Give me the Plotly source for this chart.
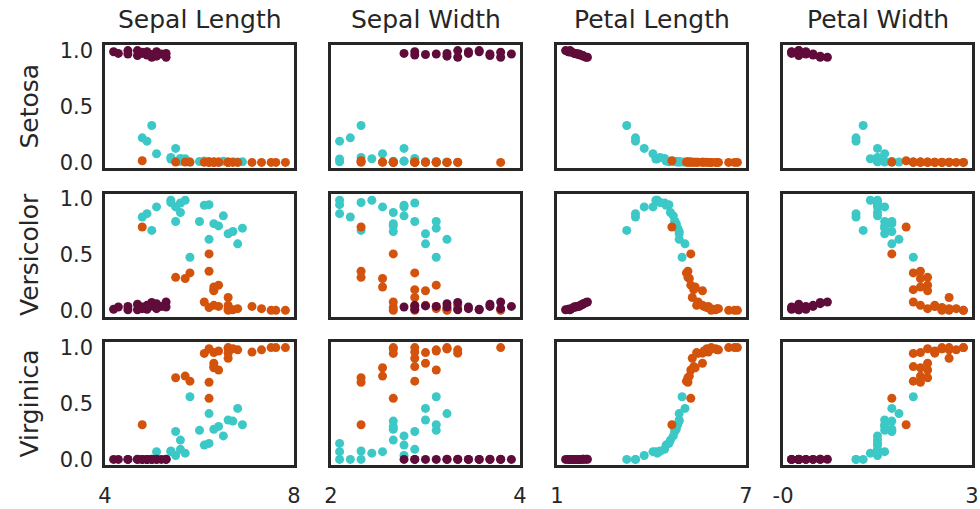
import plotly.graph_objects as go

# ---------------- data ----------------
features = ["Sepal Length", "Sepal Width", "Petal Length", "Petal Width"]
species = ["Setosa", "Versicolor", "Virginica"]
colors = ["#600c3b", "#3cc8c6", "#d4530c"]

x_ranges = [[4.12, 8.08], [1.92, 3.68], [0.705, 7.195], [-0.02, 2.62]]
x_tick_text = [["4", "8"], ["2", "4"], ["1", "7"], ["-0", "3"]]
y_tick_vals = [0.0, 0.5, 1.0]
y_tick_text = ["0.0", "0.5", "1.0"]

# Setosa flowers
setosa_sepal_length = [4.3, 4.4, 4.6, 4.8, 4.9, 5.0, 5.1, 5.2, 5.3, 5.4, 5.0, 5.1, 4.8, 5.2, 4.6, 5.4, 4.9, 5.0]
setosa_sepal_width = [2.7, 2.6, 3.1, 3.4, 3.0, 3.3, 3.1, 3.2, 3.6, 3.5, 2.7, 2.8, 3.3, 3.0, 2.9, 3.2, 3.5, 3.4]
setosa_petal_length = [1.1, 1.3, 1.0, 1.6, 1.3, 1.1, 1.7, 1.2, 1.4, 1.75, 1.5, 1.5, 1.15, 1.6, 1.4, 1.35, 1.2, 1.45]
setosa_petal_width = [0.1, 0.2, 0.2, 0.2, 0.1, 0.3, 0.5, 0.2, 0.4, 0.6, 0.4, 0.2, 0.2, 0.5, 0.3, 0.2, 0.1, 0.2]
setosa_p_setosa = [0.99, 0.975, 1.0, 0.955, 0.975, 0.99, 0.94, 0.99, 0.97, 0.94, 0.96, 0.965, 1.0, 0.95, 0.97, 0.975, 0.985, 0.97]
setosa_p_versicolor = [0.015, 0.035, 0.01, 0.06, 0.035, 0.015, 0.075, 0.02, 0.04, 0.08, 0.05, 0.045, 0.01, 0.065, 0.04, 0.035, 0.02, 0.04]
setosa_p_virginica = [0.0, 0.0, 0.0, 0.001, 0.0, 0.0, 0.001, 0.0, 0.0, 0.001, 0.0, 0.0, 0.0, 0.001, 0.0, 0.0, 0.0, 0.0]

# Versicolor flowers
versicolor_sepal_length = [5.1, 5.0, 4.9, 5.6, 5.2, 5.8, 5.5, 5.7, 5.7, 6.2, 6.3, 5.5, 5.6, 6.1, 6.4, 6.6, 6.5, 7.0, 6.7, 6.8, 6.3, 6.9, 5.9]
versicolor_sepal_width = [2.2, 2.0, 2.1, 2.6, 2.4, 2.3, 2.2, 2.7, 2.5, 2.6, 2.0, 2.0, 2.7, 2.9, 2.5, 2.6, 2.5, 2.9, 2.8, 2.5, 3.0, 2.8, 2.9]
versicolor_petal_length = [3.1, 3.4, 3.4, 3.7, 4.0, 4.15, 4.25, 4.4, 4.6, 4.45, 4.55, 4.1, 4.75, 4.75, 4.8, 4.7, 4.8, 4.85, 4.9, 4.9, 4.9, 5.1, 5.0]
versicolor_petal_width = [1.1, 1.0, 1.0, 1.3, 1.4, 1.2, 1.3, 1.3, 1.3, 1.3, 1.3, 1.3, 1.5, 1.4, 1.5, 1.3, 1.4, 1.4, 1.4, 1.5, 1.6, 1.5, 1.8]
versicolor_p_setosa = [0.33, 0.19, 0.22, 0.125, 0.077, 0.033, 0.045, 0.035, 0.01, 0.012, 0.006, 0.03, 0.008, 0.008, 0.006, 0.01, 0.006, 0.005, 0.005, 0.005, 0.004, 0.004, 0.003]
versicolor_p_versicolor = [0.72, 0.87, 0.84, 0.93, 0.93, 0.99, 0.97, 0.965, 0.88, 0.945, 0.95, 0.99, 0.80, 0.80, 0.78, 0.85, 0.76, 0.74, 0.69, 0.71, 0.64, 0.60, 0.48]
versicolor_p_virginica = [0.0, 0.0, 0.0, 0.035, 0.069, 0.056, 0.075, 0.09, 0.173, 0.128, 0.143, 0.069, 0.25, 0.26, 0.27, 0.21, 0.295, 0.31, 0.352, 0.343, 0.41, 0.456, 0.56]

# Virginica flowers
virginica_sepal_length = [4.9, 6.3, 5.9, 5.6, 5.8, 6.3, 6.4, 6.4, 6.5, 6.4, 6.7, 6.2, 6.4, 6.5, 6.3, 6.7, 6.7, 6.8, 6.9, 7.2, 7.4, 7.6, 7.7, 7.9, 6.7]
virginica_sepal_width = [2.2, 2.5, 2.7, 2.2, 2.4, 2.2, 2.7, 2.8, 2.9, 2.4, 2.7, 2.5, 2.8, 2.9, 2.5, 3.0, 3.1, 3.0, 3.1, 2.7, 2.9, 3.5, 2.7, 3.0, 2.5]
virginica_petal_length = [4.65, 5.3, 5.15, 5.2, 5.25, 5.2, 5.4, 5.7, 5.3, 5.45, 5.35, 5.55, 5.5, 5.75, 5.85, 6.0, 5.7, 6.15, 6.2, 5.9, 6.25, 6.6, 6.8, 6.9, 6.0]
virginica_petal_width = [1.7, 1.5, 1.8, 2.0, 1.9, 1.9, 1.8, 2.0, 2.0, 1.9, 2.3, 1.8, 1.9, 2.1, 2.2, 2.0, 2.1, 2.2, 2.4, 2.1, 2.3, 2.5, 2.3, 2.2, 2.5]
virginica_p_setosa = [0.015, 0.003, 0.003, 0.003, 0.003, 0.003, 0.002, 0.002, 0.002, 0.002, 0.002, 0.001, 0.001, 0.001, 0.001, 0.0, 0.001, 0.0, 0.0, 0.0, 0.0, 0.0, 0.0, 0.0, 0.0]
virginica_p_versicolor = [0.75, 0.51, 0.34, 0.30, 0.29, 0.355, 0.19, 0.18, 0.23, 0.214, 0.12, 0.08, 0.05, 0.04, 0.03, 0.02, 0.05, 0.01, 0.02, 0.04, 0.02, 0.005, 0.005, 0.005, 0.005]
virginica_p_virginica = [0.31, 0.546, 0.70, 0.73, 0.745, 0.69, 0.83, 0.86, 0.80, 0.82, 0.905, 0.948, 0.955, 0.97, 0.99, 0.99, 0.95, 0.99, 0.98, 0.96, 0.98, 1.0, 1.0, 1.0, 1.0]

groups = [
    ([setosa_sepal_length, setosa_sepal_width, setosa_petal_length, setosa_petal_width],
     [setosa_p_setosa, setosa_p_versicolor, setosa_p_virginica]),
    ([versicolor_sepal_length, versicolor_sepal_width, versicolor_petal_length, versicolor_petal_width],
     [versicolor_p_setosa, versicolor_p_versicolor, versicolor_p_virginica]),
    ([virginica_sepal_length, virginica_sepal_width, virginica_petal_length, virginica_petal_width],
     [virginica_p_setosa, virginica_p_versicolor, virginica_p_virginica]),
]
draw_order = [1, 2, 0]  # versicolor, virginica, then setosa on top

# ---------------- layout geometry (pixels) ----------------
W, H = 980, 509
col_left = [105, 331, 557, 783]
col_width = 189
row_top = [45, 193.5, 342]
row_height = 123
text_color = "#262626"
font_family = "DejaVu Sans"

fig = go.Figure()
layout = dict(
    width=W, height=H,
    margin=dict(l=0, r=0, t=0, b=0),
    paper_bgcolor="white", plot_bgcolor="white",
    showlegend=False,
    font=dict(family=font_family, color=text_color),
)

for r in range(3):
    for c in range(4):
        n = r * 4 + c + 1
        xa = "x" if n == 1 else f"x{n}"
        ya = "y" if n == 1 else f"y{n}"
        for g in draw_order:
            feats, probs = groups[g]
            fig.add_trace(go.Scatter(
                x=feats[c], y=probs[r], mode="markers",
                marker=dict(color=colors[g], size=9, line=dict(width=0)),
                xaxis=xa, yaxis=ya, hoverinfo="skip",
            ))
        x0 = col_left[c] / W
        x1 = (col_left[c] + col_width) / W
        y1 = 1 - row_top[r] / H
        y0 = 1 - (row_top[r] + row_height) / H
        lo, hi = x_ranges[c]
        eps = (hi - lo) * 1e-4
        xaxis = dict(
            domain=[x0, x1], range=[lo, hi], anchor=ya,
            showline=True, mirror=True, linecolor=text_color, linewidth=2.5,
            showgrid=False, zeroline=False, automargin=False,
            tickfont=dict(size=21, color=text_color, family=font_family),
        )
        if r == 2:
            xaxis.update(tickmode="array", tickvals=[lo + eps, hi - eps],
                         ticktext=x_tick_text[c], ticks="outside", ticklen=10,
                         tickcolor="rgba(0,0,0,0)")
        else:
            xaxis.update(showticklabels=False, ticks="")
        yaxis = dict(
            domain=[y0, y1], range=[-0.05, 1.05], anchor=xa,
            showline=True, mirror=True, linecolor=text_color, linewidth=2.5,
            showgrid=False, zeroline=False, automargin=False,
            tickfont=dict(size=21, color=text_color, family=font_family),
        )
        if c == 0:
            yaxis.update(tickmode="array", tickvals=y_tick_vals, ticktext=y_tick_text,
                         ticks="outside", ticklen=5, tickcolor="rgba(0,0,0,0)")
        else:
            yaxis.update(showticklabels=False, ticks="")
        layout["xaxis" if n == 1 else f"xaxis{n}"] = xaxis
        layout["yaxis" if n == 1 else f"yaxis{n}"] = yaxis

annotations = []
for c, name in enumerate(features):
    annotations.append(dict(
        text=name, x=(col_left[c] + col_width / 2) / W, y=1 - 20 / H,
        xref="paper", yref="paper", showarrow=False,
        xanchor="center", yanchor="middle",
        font=dict(size=25, color=text_color, family=font_family),
    ))
for r, name in enumerate(species):
    annotations.append(dict(
        text=name, x=29 / W, y=1 - (row_top[r] + row_height / 2) / H,
        xref="paper", yref="paper", showarrow=False, textangle=-90,
        xanchor="center", yanchor="middle",
        font=dict(size=25, color=text_color, family=font_family),
    ))
layout["annotations"] = annotations

fig.update_layout(**layout)
fig.write_html("out.html")
